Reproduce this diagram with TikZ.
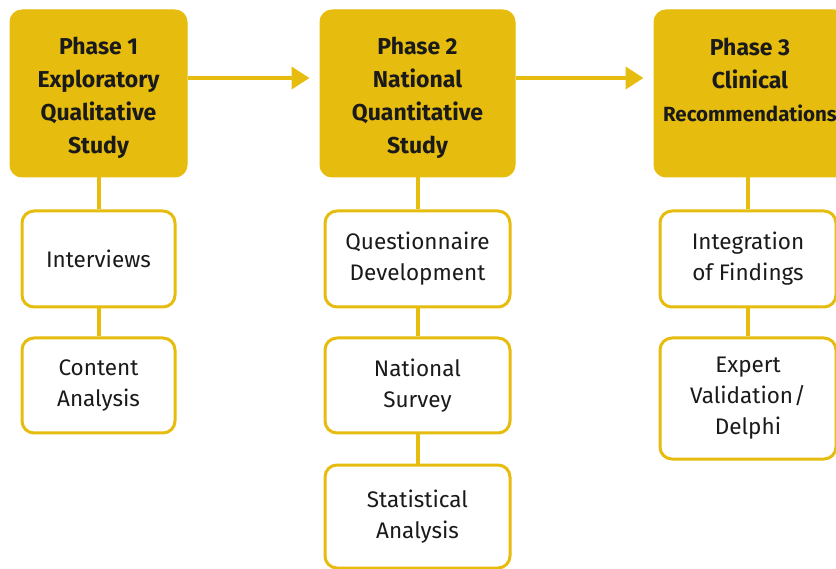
\documentclass[tikz,border=0pt]{standalone}
\usepackage{fontspec}
\setmainfont{Fira Sans}
\usetikzlibrary{arrows.meta}
\definecolor{gold}{HTML}{E6BC0E}
\definecolor{ink}{HTML}{1A1A1A}
\begin{document}
\begin{tikzpicture}[x=1pt,y=-1pt,
  phasebox/.style={draw=gold,fill=gold,rounded corners=12pt,line width=1pt,
    inner sep=0pt},
  phasetext/.style={inner sep=0pt,align=center,text=ink,
    font=\bfseries\fontsize{23}{33}\selectfont},
  subbox/.style={draw=gold,fill=white,rounded corners=12pt,line width=3pt,
    inner sep=0pt,align=center,text=ink,
    font=\fontsize{22.5}{31}\selectfont},
  link/.style={draw=gold,line width=4pt},
  flow/.style={draw=gold,line width=4pt,shorten >=10pt,
    -{Triangle[length=18pt,width=22pt]}}]
\useasboundingbox (0,0) rectangle (836,569);
\clip (0,0) rectangle (836,569);
% phase headers
\node[phasebox,minimum width=177pt,minimum height=167pt] (p1) at (98.5,93.5) {};
\node[phasebox,minimum width=195pt,minimum height=167pt] (p2) at (417.5,93.5) {};
\node[phasebox,minimum width=192pt,minimum height=167pt] (p3) at (750,93.5) {};
\node[phasetext] (t1) at (98.5,98) {Phase 1\\Exploratory\\Qualitative\\Study};
\node[phasetext] (t2) at (417.5,98) {Phase 2\\National\\Quantitative\\Study};
\node[phasetext,anchor=north] (t3) at (750,38)
  {Phase 3\\Clinical\\{\fontsize{20.5}{33}\selectfont Recommendations}};
% column 1
\node[subbox,minimum width=153pt,minimum height=96pt] (a1) at (98.5,259) {Interviews};
\node[subbox,minimum width=153pt,minimum height=95pt] (a2) at (98.5,385.5) {Content\\Analysis};
% column 2
\node[subbox,minimum width=185pt,minimum height=96pt] (b1) at (417.5,259) {Questionnaire\\Development};
\node[subbox,minimum width=185pt,minimum height=95pt] (b2) at (417.5,385.5) {National\\Survey};
\node[subbox,minimum width=185pt,minimum height=103pt] (b3) at (417.5,516.5) {Statistical\\Analysis};
% column 3
\node[subbox,minimum width=176pt,minimum height=96pt] (c1) at (748,259) {Integration\\of Findings};
\node[subbox,minimum width=176pt,minimum height=121pt] (c2) at (748,398.5) {Expert\\Validation\kern1pt/\\Delphi};
% connectors
\draw[link] (p1.south) -- (a1.north);
\draw[link] (a1.south) -- (a2.north);
\draw[link] (p2.south) -- (b1.north);
\draw[link] (b1.south) -- (b2.north);
\draw[link] (b2.south) -- (b3.north);
\draw[link] (p3.south -| c1.north) -- (c1.north);
\draw[link] (c1.south) -- (c2.north);
\draw[flow] (p1.east |- 0,78) -- (p2.west |- 0,78);
\draw[flow] (p2.east |- 0,78) -- (p3.west |- 0,78);
\end{tikzpicture}
\end{document}
